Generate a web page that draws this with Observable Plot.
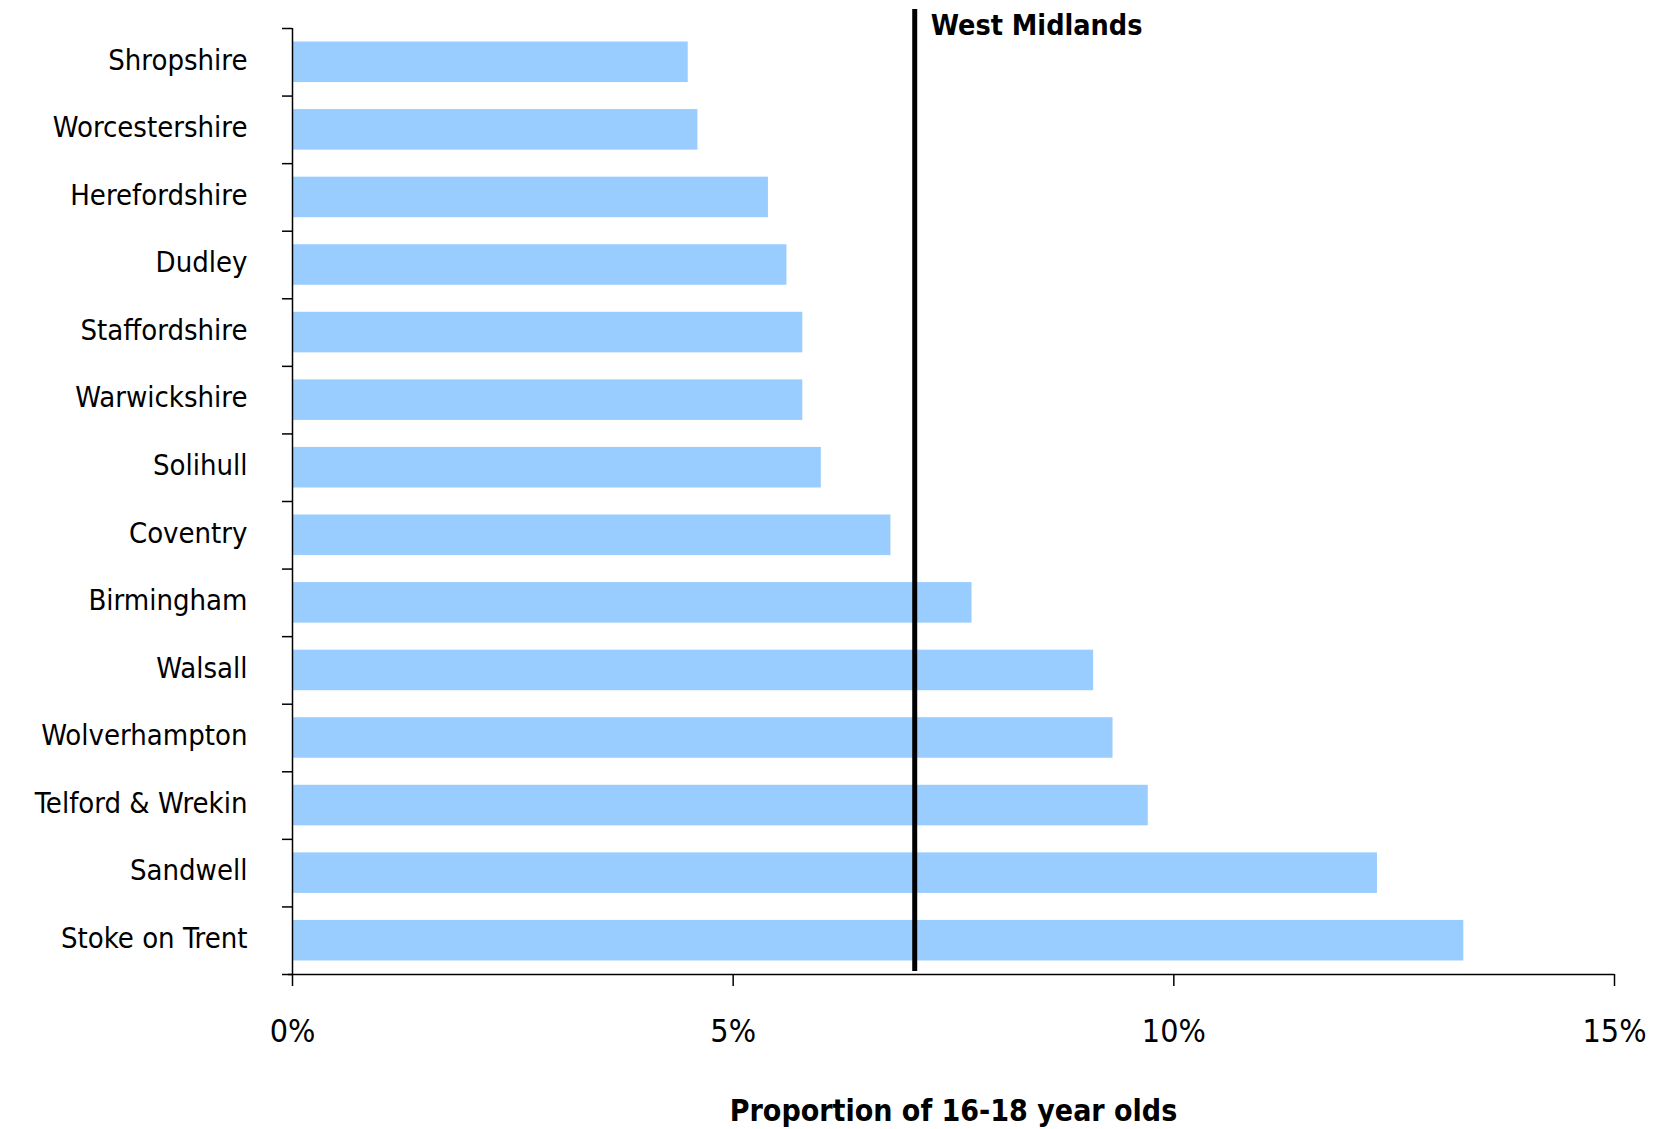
<!DOCTYPE html>
<html>
<head>
<meta charset="utf-8">
<script src="https://cdn.jsdelivr.net/npm/d3@7"></script>
<script src="https://cdn.jsdelivr.net/npm/@observablehq/plot@0.6"></script>
<style>
  html, body { margin: 0; padding: 0; background: #ffffff; }
  #chart svg { display: block; }
</style>
</head>
<body>
<div id="chart"></div>
<script>
const categories = ["Shropshire", "Worcestershire", "Herefordshire", "Dudley", "Staffordshire", "Warwickshire", "Solihull", "Coventry", "Birmingham", "Walsall", "Wolverhampton", "Telford & Wrekin", "Sandwell", "Stoke on Trent"];
const values = [4.49, 4.60, 5.40, 5.61, 5.79, 5.79, 6.00, 6.79, 7.71, 9.09, 9.31, 9.71, 12.31, 13.29];
const xTicks = [0, 5, 10, 15];
const regionLabel = "West Midlands";
const regionValue = 7.06;
const xLabel = "Proportion of 16-18 year olds";

const W = 1656, H = 1129;
const mt = 28, mb = 155, ml = 292, mr = 42;
const step = (H - mt - mb) / categories.length;
const data = categories.map((c, i) => ({area: c, value: values[i]}));

const font = "'DejaVu Sans Condensed', 'DejaVu Sans', sans-serif";
const narrow = "'Liberation Sans Narrow', 'DejaVu Sans Condensed', 'DejaVu Sans', sans-serif";

const chart = Plot.plot({
  width: W,
  height: H,
  marginTop: mt,
  marginBottom: mb,
  marginLeft: ml,
  marginRight: mr,
  style: {fontFamily: font, background: "#ffffff", color: "#000000", overflow: "visible"},
  x: {domain: [0, 15], ticks: xTicks},
  y: {domain: categories, paddingInner: 0.4, paddingOuter: 0.2, round: false},
  marks: [
    Plot.barX(data, {x: "value", y: "area", fill: "#99CCFF"}),
    Plot.ruleX([0], {stroke: "#000000", strokeWidth: 1.5}),
    Plot.ruleY([categories[categories.length - 1]], {dy: step / 2, stroke: "#000000", strokeWidth: 1.5, insetLeft: -4}),
    Plot.axisY({tickSize: 0, tickPadding: 45, fontSize: 29, dy: -2, label: null}),
    Plot.axisY({fill: "none", tickSize: 10, dy: -step / 2, strokeWidth: 1.5, label: null}),
    Plot.axisY([categories[categories.length - 1]], {fill: "none", tickSize: 10, dy: step / 2, strokeWidth: 1.5, label: null}),
    Plot.axisX({ticks: xTicks, tickFormat: d => d + "%", tickSize: 12, tickPadding: 33, strokeWidth: 1.5, fontSize: 32, fontFamily: narrow, label: null}),
    Plot.ruleX([regionValue], {stroke: "#000000", strokeWidth: 5, insetTop: -19, insetBottom: 3}),
    Plot.text([regionLabel], {x: regionValue, text: d => d, frameAnchor: "top", textAnchor: "start", lineAnchor: "top", dx: 16, dy: -14, fontWeight: "bold", fontSize: 28.5}),
    Plot.text([xLabel], {text: d => d, frameAnchor: "bottom", lineAnchor: "middle", dy: 137, fontWeight: "bold", fontSize: 30})
  ]
});
document.getElementById("chart").appendChild(chart);
</script>
</body>
</html>
